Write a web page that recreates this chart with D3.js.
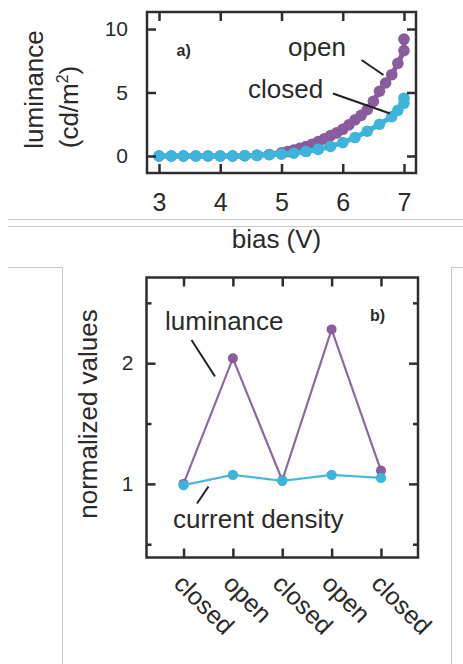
<!DOCTYPE html>
<html><head><meta charset="utf-8">
<script src="https://cdn.jsdelivr.net/npm/d3@7"></script>
<style>
html,body{margin:0;padding:0;background:#fff;}
svg{display:block;}
text{font-family:"Liberation Sans",Arial,Helvetica,sans-serif;fill:#2a2a2a;}
</style></head>
<body>
<svg id="c" width="463" height="664"></svg>
<script>
// ---------- Panel a data ----------
const closedBias = [3.0,3.2,3.4,3.6,3.8,4.0,4.2,4.4,4.6,4.8,5.0,5.2,5.4,5.6,5.8,6.0,6.2,6.4,6.6,6.8,6.9,7.0,7.0];
const closedLum  = [0,0,0,0,0,0,0,0.02,0.05,0.1,0.15,0.22,0.35,0.52,0.75,1.05,1.45,1.95,2.5,3.1,3.6,4.15,4.55];
const openBias   = [3.0,3.2,3.4,3.6,3.8,4.0,4.2,4.4,4.6,4.8,5.0,5.1,5.2,5.3,5.4,5.5,5.6,5.7,5.8,5.9,6.0,6.1,6.2,6.3,6.4,6.5,6.6,6.7,6.8,6.9,7.0,7.0];
const openLum    = [0,0,0,0,0,0,0,0.02,0.05,0.12,0.25,0.35,0.47,0.6,0.75,0.93,1.13,1.35,1.6,1.82,2.1,2.45,2.85,3.2,3.65,4.3,5.1,5.75,6.4,7.3,8.3,9.2];
const biasTicks = [3,4,5,6,7];
const lumTicks = [0,5,10];

// ---------- Panel b data ----------
const states = ["closed","open","closed","open","closed"];
const normLuminance = [1.0,2.04,1.03,2.28,1.11];
const normCurrent   = [0.99,1.075,1.025,1.075,1.05];
const normTicksMajor = [1,2];
const normTicksMinor = [0.5,1.5,2.5];

const PURPLE = "#8a5b9d", CYAN = "#3db5da", AX = "#2e2e2e";
const svg = d3.select("#c");

// decorative page separators (gray)
const g0 = svg.append("g").attr("stroke","#c9c9c9").attr("stroke-width",1).attr("fill","none");
g0.append("line").attr("x1",8).attr("x2",463).attr("y1",219.5).attr("y2",219.5);
g0.append("line").attr("x1",8).attr("x2",463).attr("y1",226.5).attr("y2",226.5);
g0.append("path").attr("d","M8,267.5H62.5V664");
g0.append("path").attr("d","M463,267.5H451.5V664");

function frame(g, L, R, T, B){
  g.append("rect").attr("x",L).attr("y",T).attr("width",R-L).attr("height",B-T)
   .attr("fill","none").attr("stroke",AX).attr("stroke-width",2.5);
}

// ================= Panel a =================
{
  const L=147, R=416, T=12, B=173;
  const x = d3.scaleLinear().domain([2.804,7.196]).range([L,R]);
  const y = d3.scaleLinear().domain([-1.34,11.34]).range([B,T]);
  const g = svg.append("g");
  const line = d3.line().x(d=>x(d[0])).y(d=>y(d[1]));
  const openPts = openBias.map((b,i)=>[b,openLum[i]]);
  const closedPts = closedBias.map((b,i)=>[b,closedLum[i]]);

  // data
  g.append("path").attr("d",line(openPts)).attr("fill","none").attr("stroke",PURPLE).attr("stroke-width",5);
  g.append("g").selectAll("circle").data(openPts).join("circle")
    .attr("cx",d=>x(d[0])).attr("cy",d=>y(d[1])).attr("r",5.8).attr("fill",PURPLE);
  g.append("path").attr("d",line(closedPts)).attr("fill","none").attr("stroke",CYAN).attr("stroke-width",5);
  g.append("g").selectAll("circle").data(closedPts).join("circle")
    .attr("cx",d=>x(d[0])).attr("cy",d=>y(d[1])).attr("r",5.8).attr("fill",CYAN);

  frame(g,L,R,T,B);
  const ax = (gen, tr)=>{ const a=g.append("g").attr("transform",tr).call(gen); a.select(".domain").remove(); a.selectAll("line").attr("stroke",AX).attr("stroke-width",2.5); return a; };
  const xb = ax(d3.axisBottom(x).tickValues(biasTicks).tickSize(-9).tickPadding(20).tickFormat(d3.format("d")), `translate(0,${B})`);
  xb.selectAll("text").style("font-size","25px").attr("fill","#2a2a2a").style("font-family","Liberation Sans, Arial");
  ax(d3.axisTop(x).tickValues(biasTicks).tickSize(-9).tickFormat(""), `translate(0,${T})`);
  const yl = ax(d3.axisLeft(y).tickValues(lumTicks).tickSize(-9).tickPadding(19).tickFormat(d3.format("d")), `translate(${L},0)`);
  yl.selectAll("text").style("font-size","21px").attr("fill","#2a2a2a").style("font-family","Liberation Sans, Arial");
  ax(d3.axisRight(y).tickValues(lumTicks).tickSize(-9).tickFormat(""), `translate(${R},0)`);

  // titles
  svg.append("text").attr("x",276.5).attr("y",248).attr("text-anchor","middle").style("font-size","26px").text("bias (V)");
  svg.append("text").attr("transform","translate(43,89.5) rotate(-90)").attr("text-anchor","middle").style("font-size","26px").text("luminance");
  const t2 = svg.append("text").attr("transform","translate(78,107) rotate(-90)").attr("text-anchor","middle").style("font-size","26px");
  t2.append("tspan").text("(cd/m");
  t2.append("tspan").attr("dy","-10").style("font-size","16px").text("2");
  t2.append("tspan").attr("dy","10").text(")");

  // annotations
  svg.append("text").attr("x",176.5).attr("y",56).style("font-size","16px").style("font-weight","bold").text("a)");
  svg.append("text").attr("x",288).attr("y",56).style("font-size","26px").text("open");
  svg.append("text").attr("x",248).attr("y",98).style("font-size","26px").text("closed");
  const ln = svg.append("g").attr("stroke","#222").attr("stroke-width",2);
  ln.append("line").attr("x1",361.5).attr("y1",60).attr("x2",383.5).attr("y2",75);
  ln.append("line").attr("x1",333).attr("y1",93.5).attr("x2",390).attr("y2",113.5);
}

// ================= Panel b =================
{
  const L=146.5, R=418, T=277.5, B=557.5;
  const x = d3.scaleLinear().domain([-0.75,4.75]).range([L,R]);
  const y = d3.scaleLinear().domain([0.39,2.71]).range([B,T]);
  const g = svg.append("g");
  const idx = states.map((_,i)=>i);

  const line = d3.line().x(d=>x(d[0])).y(d=>y(d[1]));
  const lumPts = idx.map(i=>[i,normLuminance[i]]);
  const curPts = idx.map(i=>[i,normCurrent[i]]);
  g.append("path").attr("d",line(lumPts)).attr("fill","none").attr("stroke","#8c6aa0").attr("stroke-width",2.2);
  g.append("g").selectAll("circle").data(lumPts).join("circle")
    .attr("cx",d=>x(d[0])).attr("cy",d=>y(d[1])).attr("r",5).attr("fill",PURPLE);
  g.append("path").attr("d",line(curPts)).attr("fill","none").attr("stroke","#4ab8dc").attr("stroke-width",2.2);
  g.append("g").selectAll("circle").data(curPts).join("circle")
    .attr("cx",d=>x(d[0])).attr("cy",d=>y(d[1])).attr("r",5.2).attr("fill",CYAN);

  frame(g,L,R,T,B);
  const ax = (gen, tr)=>{ const a=g.append("g").attr("transform",tr).call(gen); a.select(".domain").remove(); a.selectAll("line").attr("stroke",AX).attr("stroke-width",2.5); return a; };
  ax(d3.axisBottom(x).tickValues(idx).tickSize(-9).tickFormat(""), `translate(0,${B})`);
  ax(d3.axisTop(x).tickValues(idx).tickSize(-9).tickFormat(""), `translate(0,${T})`);
  const yl = ax(d3.axisLeft(y).tickValues(normTicksMajor).tickSize(-9).tickPadding(13).tickFormat(d3.format("d")), `translate(${L},0)`);
  yl.selectAll("text").style("font-size","21px").attr("fill","#2a2a2a").style("font-family","Liberation Sans, Arial");
  ax(d3.axisRight(y).tickValues(normTicksMajor).tickSize(-9).tickFormat(""), `translate(${R},0)`);
  ax(d3.axisLeft(y).tickValues(normTicksMinor).tickSize(-5).tickFormat(""), `translate(${L},0)`);
  ax(d3.axisRight(y).tickValues(normTicksMinor).tickSize(-5).tickFormat(""), `translate(${R},0)`);

  // category labels rotated 45
  g.append("g").selectAll("text").data(states).join("text")
    .attr("transform",(d,i)=>`translate(${x(i)-11},585) rotate(45)`)
    .style("font-size","25px").text(d=>d);

  svg.append("text").attr("transform","translate(97,414) rotate(-90)").attr("text-anchor","middle").style("font-size","26px").text("normalized values");
  svg.append("text").attr("x",370).attr("y",320.5).style("font-size","16px").style("font-weight","bold").text("b)");
  svg.append("text").attr("x",165).attr("y",330).style("font-size","26px").text("luminance");
  svg.append("text").attr("x",173).attr("y",528).style("font-size","26px").text("current density");
  const ln = svg.append("g").attr("stroke","#222").attr("stroke-width",2);
  ln.append("line").attr("x1",191.5).attr("y1",340).attr("x2",215).attr("y2",376.5);
  ln.append("line").attr("x1",208.5).attr("y1",486.5).attr("x2",197).attr("y2",503.5);
}
</script>
</body></html>
